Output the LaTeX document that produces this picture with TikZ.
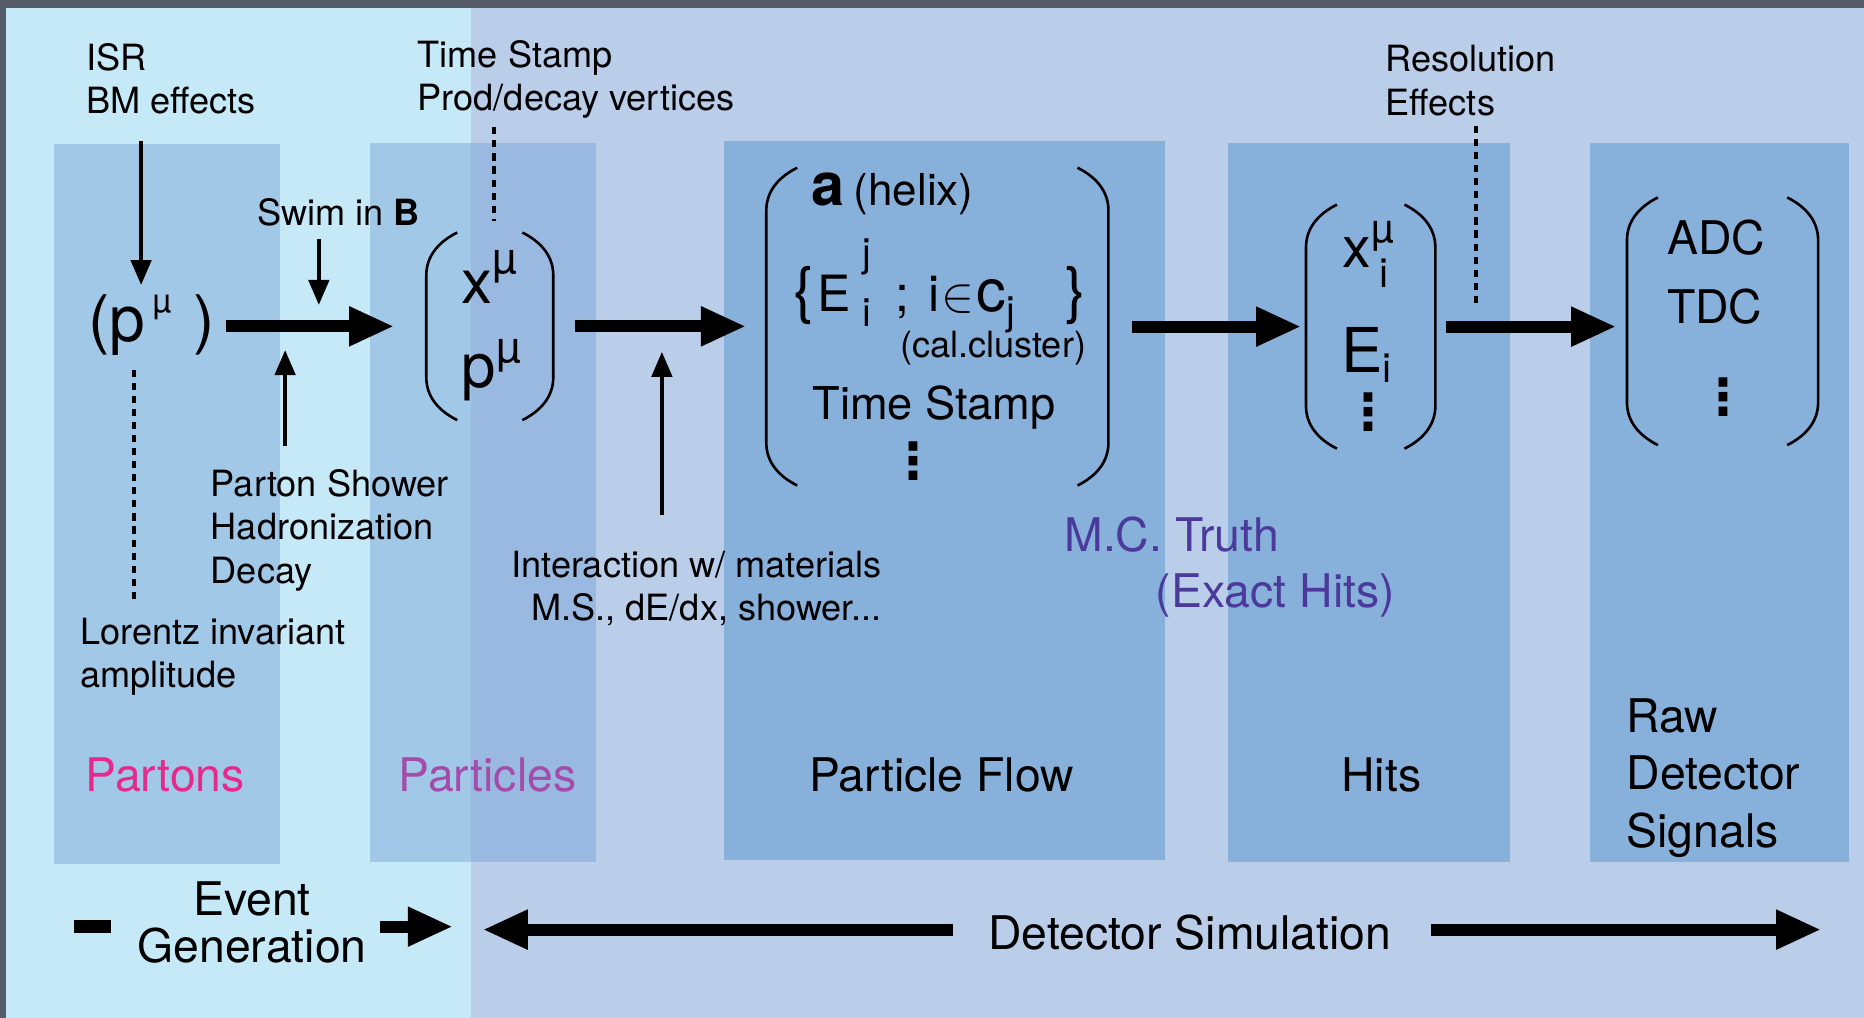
\documentclass[tikz,border=0pt]{standalone}
\usepackage{fontspec}
\setmainfont{TeX Gyre Heros}
\newfontfamily\dotsfont{DejaVu Sans}
\usepackage{tikz}
\usetikzlibrary{arrows.meta, positioning, calc}
\definecolor{framegrey}{RGB}{86,91,105}
\definecolor{eventbg}{RGB}{198,233,248}
\definecolor{detbg}{RGB}{186,205,233}
\definecolor{colpale}{RGB}{162,200,232}
\definecolor{colmid}{RGB}{154,185,224}
\definecolor{coldeep}{RGB}{135,176,218}
\definecolor{partonpink}{RGB}{230,42,140}
\definecolor{particlepurple}{RGB}{164,76,169}
\definecolor{truthviolet}{RGB}{75,58,155}
\newcommand{\fs}[1]{\fontsize{#1}{#1}\selectfont}

\begin{document}
\begin{tikzpicture}[x=0.5pt, y=-0.5pt, every node/.style={inner sep=0pt},
    note/.style={font=\fontsize{15.2}{18.25}\selectfont, align=left, anchor=base west},
    title/.style={font=\fontsize{19.5}{24}\selectfont, anchor=base},
    vdots/.style={font=\dotsfont\bfseries\fs{21}},
    flow/.style={line width=5pt, -{Triangle[length=19pt, width=15.5pt]}},
    push/.style={line width=1.7pt, -{Triangle[length=10.5pt, width=8.5pt]}},
    tick/.style={line width=1.7pt, dash pattern=on 3pt off 2.5pt},
    bracket/.style={line width=1.1pt}]
    \useasboundingbox (0,0) rectangle (1568,856);
    % backdrop and columns
    \fill[framegrey] (0,0) rectangle (1568,856);
    \fill[eventbg] (5,7) rectangle (396,856);
    \fill[detbg] (396,7) rectangle (1568,856);
    \fill[colpale] (45.5,121) rectangle (235.5,726.5);
    \fill[colpale] (311,120) rectangle (396,725.5);
    \fill[colmid] (396,120) rectangle (501,725.5);
    \fill[coldeep] (609,118.5) rectangle (980,723.5);
    \fill[coldeep] (1033,120) rectangle (1270,725.5);
    \fill[coldeep] (1337.5,120) rectangle (1555,725.5);

    % state vectors
    \node[anchor=base west, font=\fs{27}] (pmu) at (74,287.5) {(p\hspace{3pt}\raisebox{12.25pt}{\fs{14}µ}\hspace{2pt} )};
    \node[minimum width=53pt, minimum height=78.5pt] (xpvec) at (412,274.5) {};
    \node[minimum width=143.5pt, minimum height=133.25pt] (pfvec) at (788.5,274.75) {};
    \node[minimum width=54pt, minimum height=102.25pt] (hitvec) at (1153,274.75) {};
    \node[minimum width=80pt, minimum height=103.75pt] (rawvec) at (1449,270.25) {};
    \foreach \v in {xpvec, pfvec, hitvec, rawvec} {
        \draw[bracket] ($(\v.north west)+(26,0)$) .. controls ($(\v.north west)+(10,8)$) and ($(\v.north west)+(0,20)$) .. ($(\v.north west)+(0,36)$)
            -- ($(\v.south west)+(0,-36)$) .. controls ($(\v.south west)+(0,-20)$) and ($(\v.south west)+(10,-8)$) .. ($(\v.south west)+(26,0)$);
        \draw[bracket] ($(\v.north east)+(-26,0)$) .. controls ($(\v.north east)+(-10,8)$) and ($(\v.north east)+(0,20)$) .. ($(\v.north east)+(0,36)$)
            -- ($(\v.south east)+(0,-36)$) .. controls ($(\v.south east)+(0,-20)$) and ($(\v.south east)+(-10,-8)$) .. ($(\v.south east)+(-26,0)$);
    }
    \node[anchor=base west, font=\fs{26}] (xmu) at (388,255) {x\raisebox{12.5pt}{\fs{18.5}µ}};
    \node[anchor=base west, font=\fs{26}] (pvec) at (388,326) {p\raisebox{10.5pt}{\fs{18.5}µ}};
    \node[anchor=base west] (helix) at (682,172.5) {{\fs{25}\bfseries a}\hspace{4pt}{\fs{18.5}(helix)}};
    \node[anchor=base west, font=\fs{21}] (cluster) at (667,262) {{\fs{26}\{}\hspace{1.5pt}E\hspace{5pt}\rlap{\raisebox{19pt}{\fs{16.5}j}}\raisebox{-6.5pt}{\fs{16.5}i}\hspace{10pt};\hspace{8pt}i\hspace{1pt}{\fs{22}$\in$}\hspace{1pt}{\fs{25}c}\raisebox{-5.5pt}{\fs{16.5}j}\hspace{21pt}{\fs{26}\}}};
    \node[anchor=base east, font=\fs{15.2}] (calcl) at (914,301) {(cal.cluster)};
    \node[anchor=base west, font=\fs{19}] (pfstamp) at (683,353) {Time Stamp};
    \node[vdots] (pfdots) at (768,387.75) {⋮};
    \node[anchor=base west, font=\fs{24}] (hitx) at (1129,224.6) {x\rlap{\raisebox{10.5pt}{\fs{17}µ}}\hspace{3.5pt}\raisebox{-8.5pt}{\fs{17}i}};
    \node[anchor=base west, font=\fs{26}] (hite) at (1128,313) {E\raisebox{-4.5pt}{\fs{17}i}};
    \node[vdots] (hitdots) at (1151,346.5) {⋮};
    \node[anchor=base west, font=\fs{19.5}] (adc) at (1402,214.5) {ADC};
    \node[anchor=base west, font=\fs{19.5}] (tdc) at (1402,272) {TDC};
    \node[vdots] (rawdots) at (1450,334) {⋮};

    % side notes (anchored on their last line)
    \node[note] (isr) at (72,95.5) {ISR\\BM effects};
    \node[note] (tstamp) at (351,93) {Time Stamp\\Prod/decay vertices};
    \node[note] (resol) at (1165,97) {Resolution\\Effects};
    \node[note] (swim) at (216,190) {Swim in \textbf{B}};
    \node[note] (shower) at (177,490.5) {Parton Shower\\Hadronization\\Decay};
    \node[note, align=right, anchor=base east] (interact) at (742,522) {Interaction w/ materials\\M.S., dE/dx, shower...};
    \node[note] (lorentz) at (67,578.5) {Lorentz invariant\\amplitude};

    % column titles
    \node[title, text=partonpink] (partons) at (139,666) {Partons};
    \node[title, text=particlepurple] (particles) at (410,666) {Particles};
    \node[title] (pflowlab) at (792,666) {Particle Flow};
    \node[title] (hitslab) at (1162,666) {Hits};
    \node[title, align=left, anchor=base west] (rawlab) at (1368,712.5) {Raw\\Detector\\Signals};
    \node[title, text=truthviolet, anchor=base west] (truth) at (895,464) {M.C. Truth};
    \node[title, text=truthviolet, anchor=base west] (exact) at (972,511) {(Exact Hits)};
    \node[title, align=center, font=\fontsize{19.5}{20}\selectfont] (eventgen) at (212,810) {Event\\Generation};
    \node[title, anchor=base west] (detsim) at (831,799) {Detector Simulation};

    % main chain
    \draw[flow, shorten <=4.5pt, shorten >=13.5pt] (xpvec.west -| pmu.east) -- coordinate[pos=0.49] (swimpt) coordinate[pos=0.33] (showerpt) (xpvec.west);
    \draw[flow, shorten <=9pt, shorten >=8.5pt] (xpvec.east) -- coordinate[pos=0.51] (matpt) (xpvec.east -| pfvec.west);
    \draw[flow, shorten <=10pt, shorten >=2pt] (pfvec.east) -- (pfvec.east -| hitvec.west);
    \draw[flow, shorten <=4.5pt, shorten >=4.5pt] (hitvec.east) -- coordinate[pos=0.21] (respt) (hitvec.east -| rawvec.west);

    % influences
    \draw[push, shorten <=11pt, shorten >=4pt] ([xshift=22.35pt]pmu.north west |- isr.south) -- ([xshift=22.35pt]pmu.north west);
    \draw[push, shorten <=5pt, shorten >=9pt] (swim.south -| swimpt) -- (swimpt);
    \draw[push, shorten <=9.5pt, shorten >=10pt] (shower.north -| showerpt) -- (showerpt);
    \draw[push, shorten <=14.75pt, shorten >=10.75pt] (interact.north -| matpt) -- (matpt);
    \draw[tick, shorten <=5.6pt, shorten >=7.25pt] ([xshift=19.2pt]pmu.south west) -- ([xshift=19.2pt]pmu.south west |- lorentz.north);
    \draw[tick, shorten <=3.5pt, shorten >=4.75pt] ([xshift=1.8pt]xpvec.north |- tstamp.south) -- ([xshift=1.8pt]xpvec.north);
    \draw[tick, shorten <=4pt, shorten >=8.25pt] (resol.south -| respt) -- (respt);

    % stage arrows
    \coordinate (egtail) at (62,779.5);
    \coordinate (egtip) at (381,779.5);
    \coordinate (dsleft) at (406,782);
    \coordinate (dsright) at (1532,782);
    \draw[line width=5.5pt, shorten >=10.75pt] (egtail) -- (egtail -| eventgen.west);
    \draw[flow, shorten <=5.25pt] (eventgen.east |- egtip) -- (egtip);
    \draw[flow, shorten <=14.7pt] (detsim.west |- dsleft) -- (dsleft);
    \draw[flow, shorten <=16.5pt] (detsim.east |- dsright) -- (dsright);
\end{tikzpicture}
\end{document}
